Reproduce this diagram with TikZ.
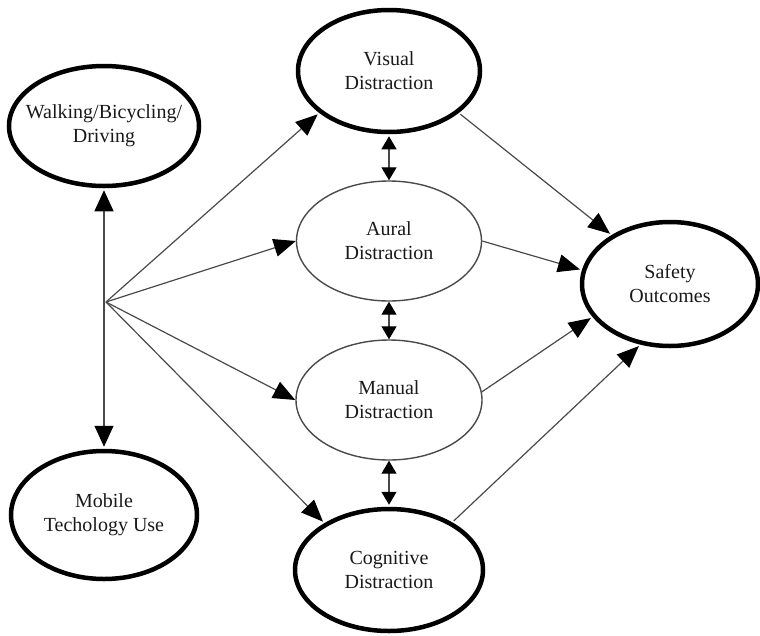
\documentclass[tikz,border=0pt]{standalone}
\usepackage{fontspec}
\setmainfont{Liberation Serif}
\usetikzlibrary{arrows.meta,shapes.geometric}
\definecolor{conn}{HTML}{4A4A4A}
\begin{document}
\begin{tikzpicture}[x=1pt,y=-1pt,
  oval/.style={ellipse,inner xsep=-30pt,inner ysep=-12pt,align=center,font=\fontsize{20}{24}\selectfont,text=black!90},
  heavy/.style={oval,draw=black,line width=4.5pt},
  light/.style={oval,draw=conn,line width=1.4pt},
  bigarrow/.style={draw=conn,line width=1.2pt,-{Triangle[length=22pt,width=18pt,black]}},
  dblarrow/.style={draw=conn,line width=1.2pt,{Triangle[length=13pt,width=15pt,black]}-{Triangle[length=13pt,width=15pt,black]}},
  vertarrow/.style={draw=conn,line width=1.2pt,{Triangle[length=21pt,width=19pt,black]}-{Triangle[length=21pt,width=19pt,black]}}
]
\useasboundingbox (0,0) rectangle (760,635);
\node[heavy,minimum width=190pt,minimum height=120pt] (walk) at (104,126) {Walking/Bicycling/\\Driving};
\node[heavy,minimum width=186pt,minimum height=128pt] (mob) at (104,515) {Mobile\\Techology Use};
\node[heavy,minimum width=182pt,minimum height=122pt] (vis) at (389,71) {Visual\\Distraction};
\node[light,minimum width=185pt,minimum height=120pt] (aur) at (389,241) {Aural\\Distraction};
\node[light,minimum width=186pt,minimum height=120pt] (man) at (389,400) {Manual\\Distraction};
\node[heavy,minimum width=188pt,minimum height=122pt] (cog) at (389,570) {Cognitive\\Distraction};
\node[heavy,minimum width=176pt,minimum height=124pt] (saf) at (670,284) {Safety\\Outcomes};
\coordinate (F) at (106,302);
% vertical two-way arrow
\draw[vertarrow,shorten <=2pt,shorten >=2pt] (walk) -- (mob);
% fan
\draw[bigarrow,shorten >=2pt] (F) -- (vis.211);
\draw[bigarrow] (F) -- (aur.west);
\draw[bigarrow] (F) -- (man.west);
\draw[bigarrow,shorten >=2pt] (F) -- (cog.144);
% between distractions
\draw[dblarrow,shorten <=2pt] (vis) -- (aur);
\draw[dblarrow] (aur) -- (man);
\draw[dblarrow,shorten >=2pt] (man) -- (cog);
% to safety
\draw[bigarrow,shorten <=2pt,shorten >=2pt] (vis.329) -- (saf.140);
\draw[bigarrow,shorten >=2pt] (aur.east) -- (saf.171);
\draw[bigarrow,shorten >=2pt] (man.5) -- (saf.203);
\draw[bigarrow,shorten <=2pt,shorten >=2pt] (cog.37) -- (saf.244);
\end{tikzpicture}
\end{document}
